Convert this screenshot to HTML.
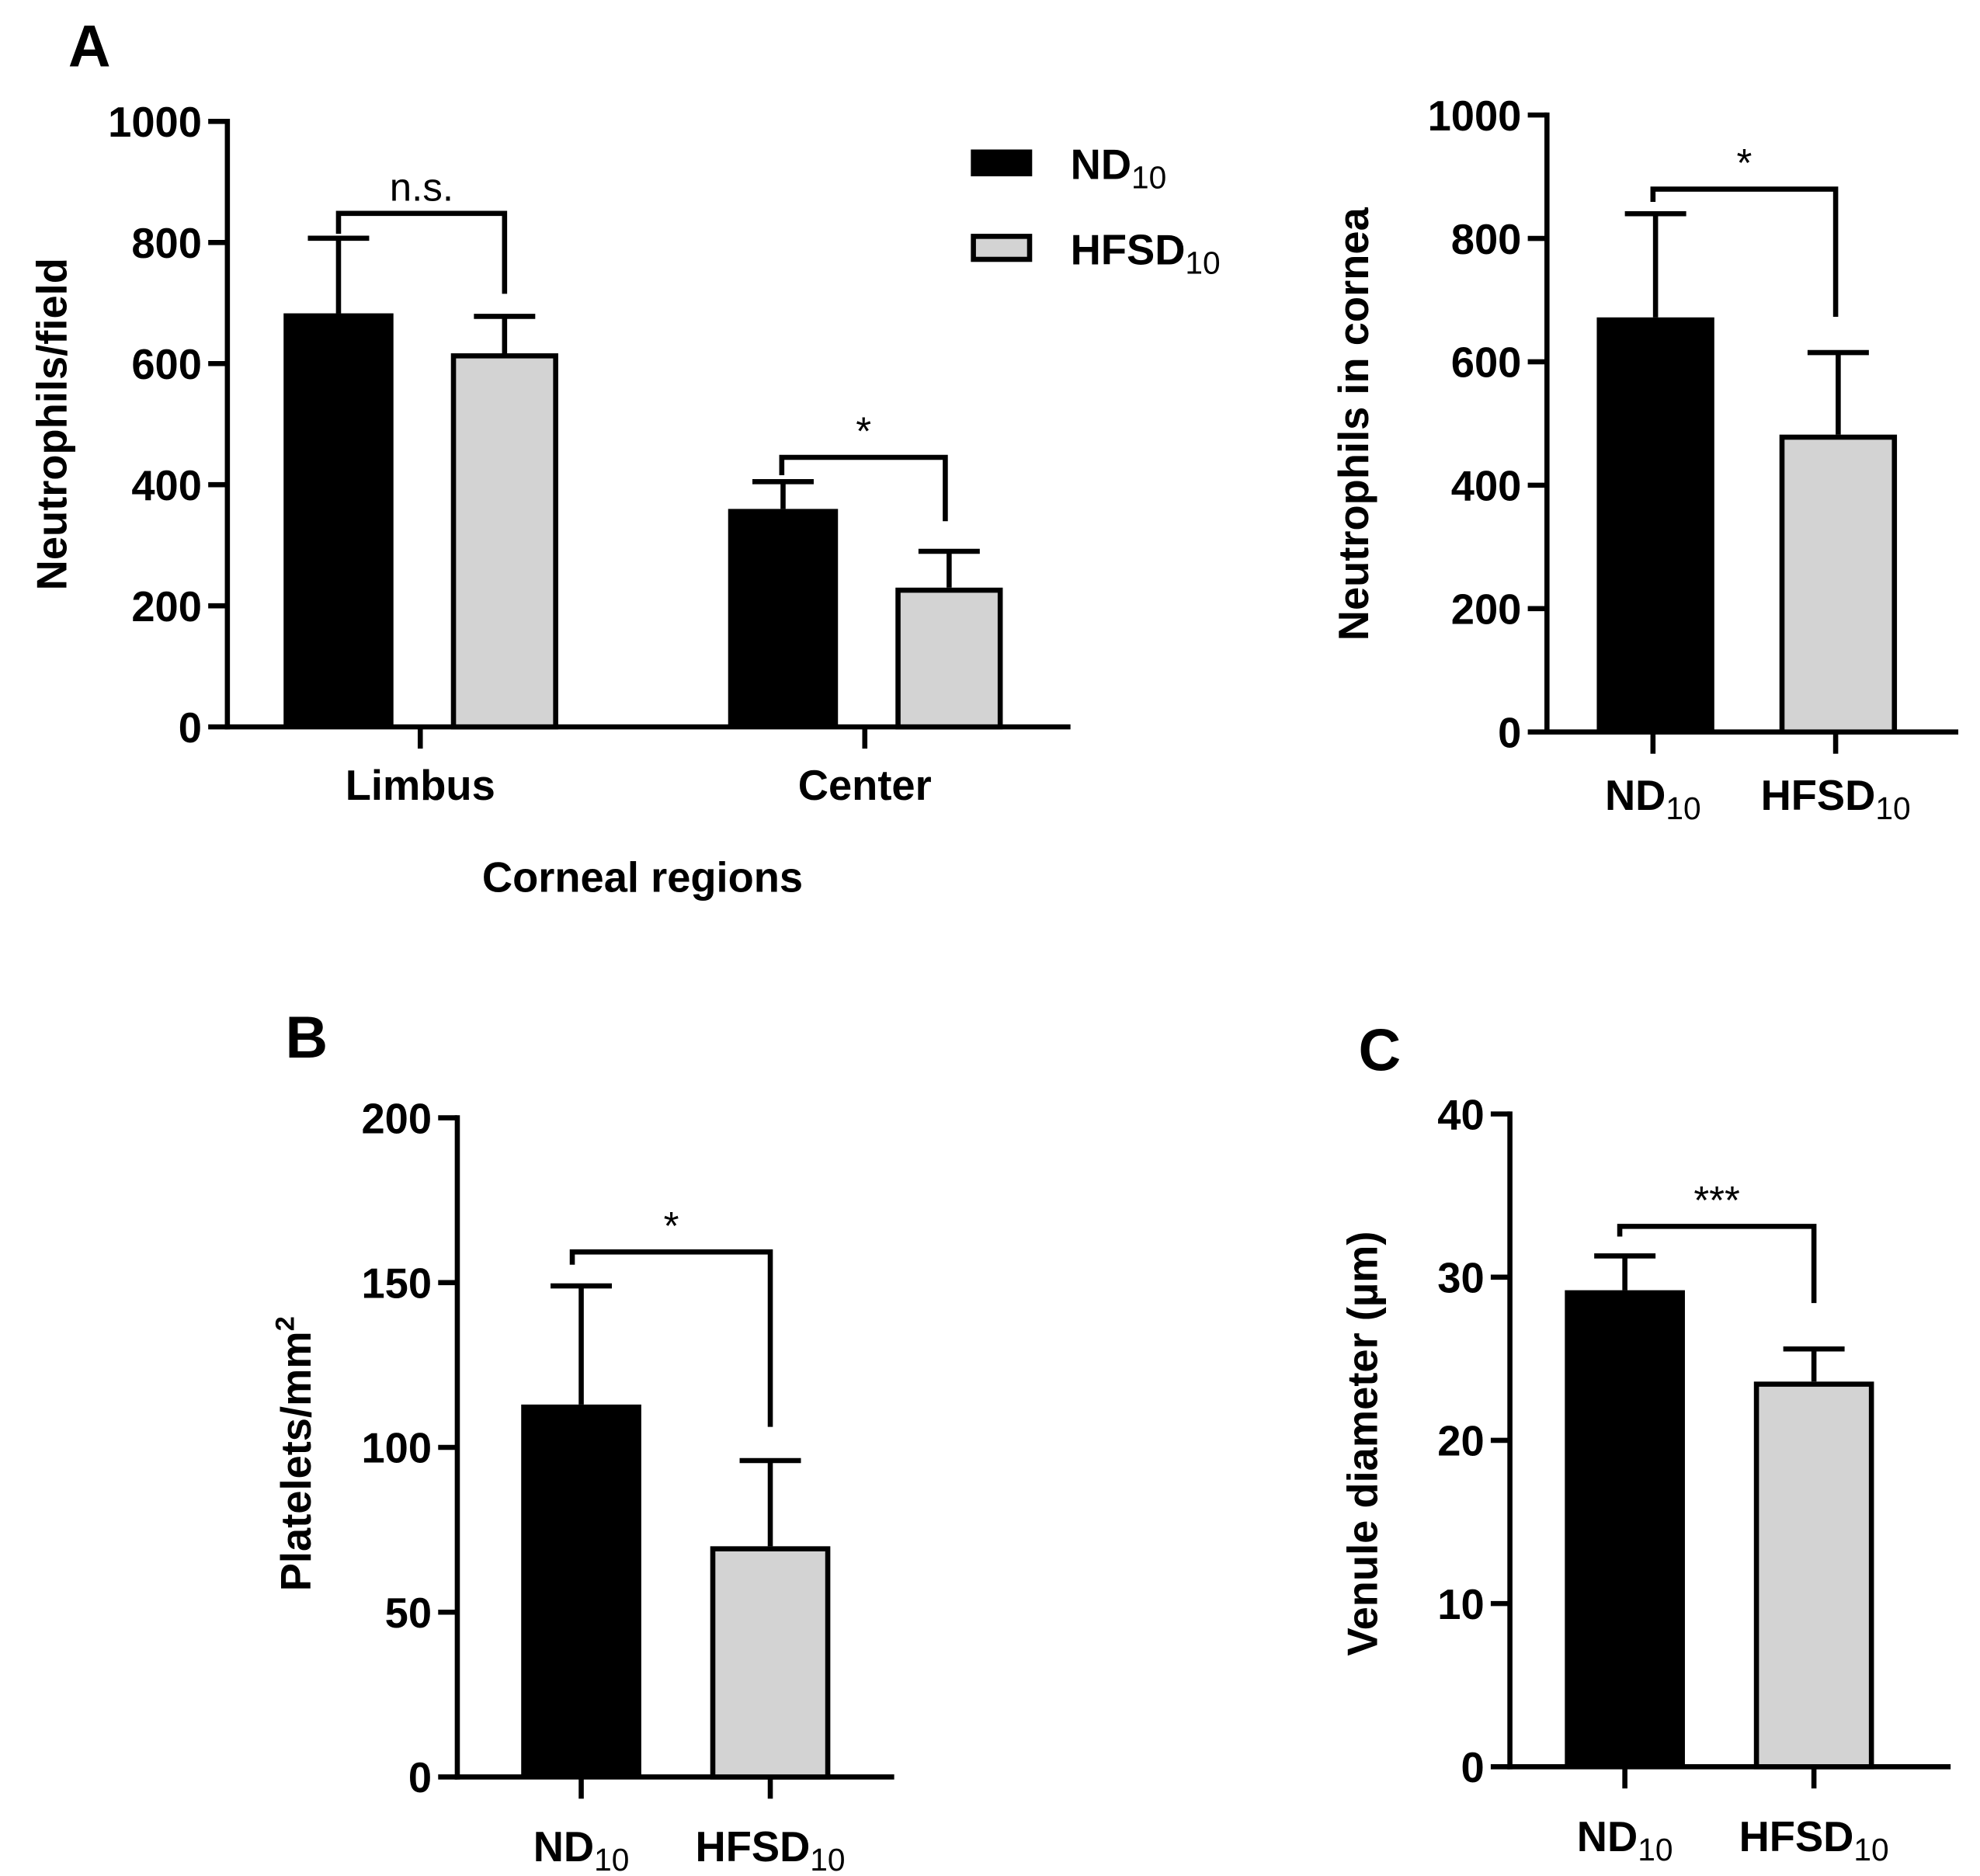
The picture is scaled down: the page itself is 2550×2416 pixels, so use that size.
<!DOCTYPE html>
<html><head><meta charset="utf-8"><style>
html,body{margin:0;padding:0;background:#fff;}
svg{display:block;font-family:"Liberation Sans",Arial,sans-serif;}
</style></head><body>
<svg id="fig" width="2550" height="2416" viewBox="0 0 1550 1468.5" xmlns="http://www.w3.org/2000/svg"></svg>
<script>
// Panel A data
const aCategories = ["Limbus","Center"];
const aND = [683, 360];
const aNDerr = [807, 405];
const aHF = [617, 230];
const aHFerr = [678, 290];
const aTicks = [0,200,400,600,800,1000];
// Panel A right
const rCategories = ["ND","HFSD"];
const rValues = [672, 482];
const rErr = [840, 615];
const rTicks = [0,200,400,600,800,1000];
// Panel B
const bValues = [113, 70];
const bErr = [149, 96];
const bTicks = [0,50,100,150,200];
// Panel C
const cValues = [29.2, 23.6];
const cErr = [31.3, 25.6];
const cTicks = [0,10,20,30,40];

const svg = document.getElementById('fig');
const NS = "http://www.w3.org/2000/svg";
const SW = 4;
const FS = 33;
function el(tag, attrs, parent){
  const e = document.createElementNS(NS, tag);
  for (const k in attrs) e.setAttribute(k, attrs[k]);
  (parent||svg).appendChild(e);
  return e;
}
function line(x1,y1,x2,y2,name,g){
  const l = el('line',{x1,y1,x2,y2,stroke:'#000','stroke-width':SW,'stroke-linecap':'butt'},g);
  
  
  return l;
}
function text(x,y,str,size,name,opts,g){
  const t = el('text',Object.assign({x,y,'font-size':size,'font-weight':'bold','text-anchor':'middle',fill:'#000'},opts||{}),g);
  t.textContent = str;
  
  
  return t;
}
function subLabel(x,y,main,sub,size,name,g,anchor){
  const t = el('text',{x,y,'font-size':size,'font-weight':'bold','text-anchor':anchor||'middle',fill:'#000'},g);
  
  
  const s1 = el('tspan',{},t); s1.textContent = main;
  const s2 = el('tspan',{'font-size':size*0.75,'font-weight':'normal',dy:size*0.22},t); s2.textContent = sub;
  return t;
}
function yAxis(ax, ticks, name){
  const g = el('g',{});
  
  
  const top = ax.y(ticks[ticks.length-1]);
  line(ax.x0, top-2, ax.x0, ax.y(0)+SW/2, 'y-axis-line', g);
  ticks.forEach(v=>{
    const yy = ax.y(v);
    line(ax.x0-15, yy, ax.x0, yy, 'y-tick', g);
    text(ax.x0-20, yy+12, String(v), FS, 'y-tick-label', {'text-anchor':'end'}, g);
  });
  line(ax.x0-2, ax.y(0), ax.x1, ax.y(0), 'x-axis-line', g);
}
function bar(ax, cx, w, v, err, fill, name){
  const g = el('g',{});
  
  
  const yt = ax.y(v), yb = ax.y(0);
  line(cx, ax.y(err), cx, yt, 'error-bar', g);
  line(cx-24, ax.y(err), cx+24, ax.y(err), 'error-cap', g);
  const blk = fill==='#000';
  const r = el('rect',{x:cx-w/2+(blk?0:SW/2), y:yt+(blk?0:SW/2), width:w-(blk?0:SW), height:yb-yt-(blk?0:SW/2), fill, stroke:blk?'none':'#000','stroke-width':SW},g);
  
  
}
function bracket(x1,x2,y,yl,yr,label,ls,name){
  const g = el('g',{});
  
  
  const p = el('path',{d:`M${x1},${yl} L${x1},${y} L${x2},${y} L${x2},${yr}`,fill:'none',stroke:'#000','stroke-width':SW},g);
  
  
  text((x1+x2)/2, y-10, label, ls, 'significance-label', {'font-weight':'normal'}, g);
}
function lin(d0,d1,p0,p1){return v=>p0+(v-d0)/(d1-d0)*(p1-p0);}

// Panel A left
const axA = {x0:178, x1:838, y:lin(0,1000,569,95)};
yAxis(axA, aTicks, 'panel-a-y-axis');
const aCenters = [329, 677];
aCategories.forEach((c,i)=>{
  line(aCenters[i], 569, aCenters[i], 586, 'x-tick');
  bar(axA, aCenters[i]-64, 86, aND[i], aNDerr[i], '#000', 'bar-nd-'+c.toLowerCase());
  bar(axA, aCenters[i]+66, 84, aHF[i], aHFerr[i], '#d3d3d3', 'bar-hfsd-'+c.toLowerCase());
  text(aCenters[i], 626, c, FS, 'x-tick-label');
});
bracket(265, 395, 167, 183, 230, 'n.s.', 31, 'bracket-limbus');
bracket(612, 740, 358, 372, 408, '*', 31, 'bracket-center');
text(503, 698, 'Corneal regions', FS, 'x-axis-title');
text(0,0,'Neutrophils/field',FS,'y-axis-title',{transform:'translate(52,332) rotate(-90)'});
text(70, 52, 'A', 46, 'panel-label-a');
// legend
const lg = el('g',{});  
const lr1 = el('rect',{x:760,y:117,width:48,height:21,fill:'#000'},lg);
 
const lr2 = el('rect',{x:762,y:185,width:44,height:18,fill:'#d3d3d3',stroke:'#000','stroke-width':SW},lg);
 
subLabel(838,140,'ND','10',FS,'legend-entry-nd',lg,'start');
subLabel(838,207,'HFSD','10',FS,'legend-entry-hfsd',lg,'start');

// Panel A right
const axR = {x0:1211, x1:1533, y:lin(0,1000,573,90)};
yAxis(axR, rTicks, 'panel-a2-y-axis');
const rCenters = [1294, 1437];
rCategories.forEach((c,i)=>{
  line(rCenters[i], 573, rCenters[i], 590, 'x-tick');
  bar(axR, rCenters[i]+2, 92, rValues[i], rErr[i], i? '#d3d3d3':'#000', 'bar-'+c.toLowerCase());
  subLabel(rCenters[i], 634, c, '10', FS, 'x-tick-label');
});
bracket(1294, 1437, 148, 158, 248, '*', 31, 'bracket-cornea');
text(0,0,'Neutrophils in cornea',FS,'y-axis-title',{transform:'translate(1071,332) rotate(-90)'});

// Panel B
const axB = {x0:358, x1:700, y:lin(0,200,1391,875)};
yAxis(axB, bTicks, 'panel-b-y-axis');
const bCenters = [455, 603];
rCategories.forEach((c,i)=>{
  line(bCenters[i], 1391, bCenters[i], 1408, 'x-tick');
  bar(axB, bCenters[i], 94, bValues[i], bErr[i], i? '#d3d3d3':'#000', 'bar-'+c.toLowerCase());
  subLabel(bCenters[i], 1457, c, '10', FS, 'x-tick-label');
});
bracket(448, 603, 980, 990, 1117, '*', 31, 'bracket-platelets');
const pl = text(0,0,'Platelets/mm',FS,'y-axis-title',{transform:'translate(243,1138) rotate(-90)'});
const sup = el('tspan',{'font-size':21,dy:-13},pl); sup.textContent='2';
text(240, 828, 'B', 46, 'panel-label-b');

// Panel C
const axC = {x0:1182, x1:1527, y:lin(0,40,1383,872)};
yAxis(axC, cTicks, 'panel-c-y-axis');
const cCenters = [1272, 1420];
rCategories.forEach((c,i)=>{
  line(cCenters[i], 1383, cCenters[i], 1400, 'x-tick');
  bar(axC, cCenters[i], 94, cValues[i], cErr[i], i? '#d3d3d3':'#000', 'bar-'+c.toLowerCase());
  subLabel(cCenters[i], 1449, c, '10', FS, 'x-tick-label');
});
bracket(1268, 1420, 960, 968, 1020, '***', 31, 'bracket-venule');
text(0,0,'Venule diameter (\u00b5m)',FS,'y-axis-title',{transform:'translate(1078,1130) rotate(-90)'});
text(1080, 838, 'C', 46, 'panel-label-c');
</script>
</body></html>
